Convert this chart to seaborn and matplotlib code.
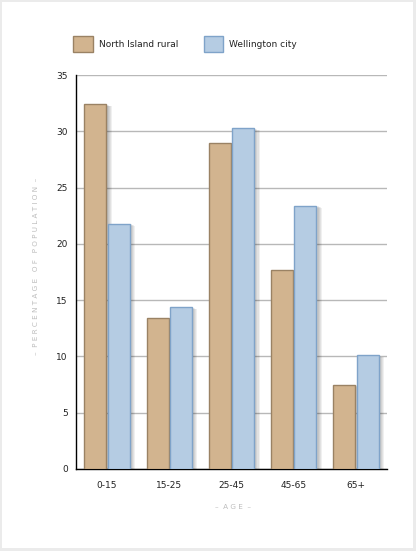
import pandas as pd
import seaborn as sns
import matplotlib
matplotlib.use("Agg")
import matplotlib.pyplot as plt
import matplotlib.patheffects as pe
from matplotlib.patches import Patch, Rectangle

ages = ["0-15", "15-25", "25-45", "45-65", "65+"]
rural = [32.4, 13.4, 29.0, 17.7, 7.5]
wellington = [21.8, 14.4, 30.3, 23.4, 10.1]
series = ["North Island rural", "Wellington city"]
face_colors = ["#d2b48f", "#b5cce3"]
edge_colors = ["#9a8264", "#7fa3c9"]
y_ticks = [0, 5, 10, 15, 20, 25, 30, 35]

df = pd.DataFrame({
    "age": ages * 2,
    "value": rural + wellington,
    "series": [series[0]] * len(ages) + [series[1]] * len(ages),
})

sns.set_style("white")
plt.rcParams["font.family"] = ["DejaVu Sans"]

fig = plt.figure(figsize=(4.16, 5.51), dpi=100, facecolor="#ebebeb")
# white panel inside the gray frame
fig.patches.append(Rectangle((2 / 416, 3 / 551), 411 / 416, 546 / 551,
                             transform=fig.transFigure, facecolor="white",
                             edgecolor="none", zorder=-1))

ax = fig.add_axes([76 / 416, 1 - 469 / 551, 311 / 416, 394 / 551])
ax.set_zorder(2)
ax.set_facecolor("none")

sns.barplot(data=df, x="age", y="value", hue="series", order=ages,
            hue_order=series, palette=face_colors, saturation=1,
            width=0.75, gap=0.06, legend=False, ax=ax, zorder=3)

shadow = [pe.SimplePatchShadow(offset=(k * 0.8, -k * 0.3), shadow_rgbFace="k",
                               alpha=0.06) for k in range(1, 6)]
for cont, ec in zip(ax.containers, edge_colors):
    for bar in cont:
        bar.set_edgecolor(ec)
        bar.set_linewidth(1)
        bar.set_path_effects(shadow + [pe.Normal()])

ax.set_xlim(-0.5, 4.5)
ax.set_ylim(0, 35)
ax.set_yticks(y_ticks)
ax.yaxis.grid(True, color="#b8b8b8", linewidth=1, zorder=0)
ax.set_axisbelow(True)

ax.tick_params(axis="y", direction="out", length=3, color="#999999",
               labelsize=6.5, labelcolor="#222222", pad=3)
ax.tick_params(axis="x", which="major", length=0, labelsize=6.5,
               labelcolor="#222222", pad=9)
ax.set_xticks([0.5, 1.5, 2.5, 3.5, 4.5], minor=True)
ax.tick_params(axis="x", which="minor", direction="in", length=9,
               width=1, color="#333333")

for side in ["top", "right"]:
    ax.spines[side].set_visible(False)
for side in ["left", "bottom"]:
    ax.spines[side].set_color("black")
    ax.spines[side].set_linewidth(1)

ax.set_xlabel("")
ax.set_ylabel("")

fig.text(36 / 416, 1 - 266 / 551,
         "–  P E R C E N T A G E   O F   P O P U L A T I O N  –",
         rotation=90, ha="center", va="center", fontsize=5.2, color="#bdbdbd")
fig.text(233 / 416, 1 - 507 / 551, "–  A G E  –", ha="center", va="center",
         fontsize=5.2, color="#bdbdbd")

handles = [Patch(facecolor=fc, edgecolor=ec, linewidth=1)
           for fc, ec in zip(face_colors, edge_colors)]
fig.legend(handles, series, loc="center left",
           bbox_to_anchor=(73 / 416, 1 - 44 / 551), ncol=2, frameon=False,
           fontsize=6.5, handlelength=2.2, handleheight=2.2,
           handletextpad=0.67, columnspacing=2.8, borderpad=0,
           borderaxespad=0, labelcolor="#222222")

fig.savefig("out.png", dpi=100, facecolor=fig.get_facecolor())
